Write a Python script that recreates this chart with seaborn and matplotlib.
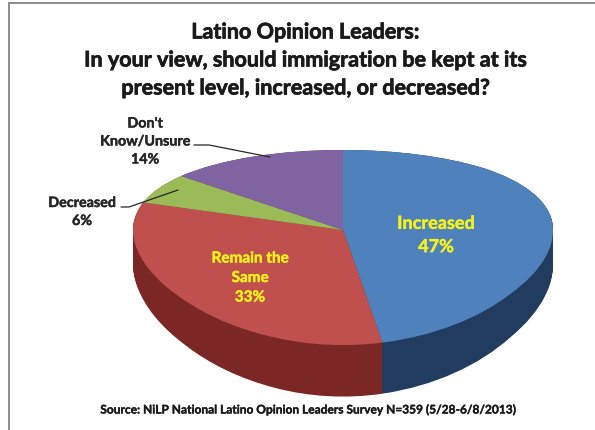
import numpy as np
import matplotlib
matplotlib.use("Agg")
import matplotlib.pyplot as plt
import matplotlib.patheffects as pe
import seaborn as sns

# Survey answers, clockwise from 12 o'clock
categories = ["Increased", "Remain the Same", "Decreased", "Don't Know/Unsure"]
shares = [47, 33, 6, 14]
top_colors = ["#4F81BD", "#C0504D", "#9BBB59", "#8064A2"]
side_colors = ["#223C60", "#7A2725", "#5E7530", "#4B3A63"]

title_lines = [
    "Latino Opinion Leaders:",
    "In your view, should immigration be kept at its",
    "present level, increased, or decreased?",
]
source_note = "Source: NiLP National Latino Opinion Leaders Survey N=359 (5/28-6/8/2013)"

sns.set_theme(style="white")
plt.rcParams["font.family"] = ["Lato", "DejaVu Sans"]

W, H = 595, 430
fig = plt.figure(figsize=(W / 100, H / 100), dpi=100)
fig.patch.set_facecolor("white")

# ---- pie axes: tilted disc via a perspective-like y scale ----
ax = fig.add_axes([0, 0, 1, 1])
CX, CY, RX = 343, 230, 210          # pixel centre and horizontal radius
A, E = 94.4, 0.1795                 # vertical scale and foreshortening


def fwd(y):
    y = np.asarray(y, dtype=float)
    with np.errstate(divide="ignore", invalid="ignore"):
        return y / (1 + E * y)


def inv(f):
    f = np.asarray(f, dtype=float)
    with np.errstate(divide="ignore", invalid="ignore"):
        return f / (1 - E * f)


depth = 0.34
layers = np.linspace(depth, 0.0, 45)
for d in layers:
    ax.pie(shares, colors=side_colors, startangle=90, counterclock=False,
           center=(0, -d), radius=1.0, frame=True,
           wedgeprops=dict(linewidth=0, antialiased=True))
ax.pie(shares, colors=top_colors, startangle=90, counterclock=False,
       center=(0, 0), radius=1.0, frame=True,
       wedgeprops=dict(linewidth=0, antialiased=True))

ax.set_aspect("auto")
ax.set_yscale("function", functions=(fwd, inv))
ax.set_xlim(-CX / RX, (W - CX) / RX)
ax.set_ylim(inv(-(H - CY) / A), inv(CY / A))
ax.set_xticks([])
ax.set_yticks([])
ax.set_axis_off()

# ---- overlay in pixel coordinates for text, leaders and frame ----
ov = fig.add_axes([0, 0, 1, 1])
ov.set_xlim(0, W)
ov.set_ylim(H, 0)
ov.set_axis_off()
ov.patch.set_alpha(0)

frame_kw = dict(color="#8C8C8C", lw=1.4, solid_capstyle="butt")
ov.plot([8, W], [2.5, 2.5], **frame_kw)
ov.plot([8.5, 8.5], [2, H], **frame_kw)


def heavy(color, w=0.45):
    return [pe.withStroke(linewidth=w, foreground=color)]


for i, line in enumerate(title_lines):
    ov.text(305, 32 + i * 28, line, ha="center", va="center",
            fontsize=15.5, fontweight="bold", color="#1a1a1a",
            path_effects=heavy("#1a1a1a", 0.5))

lab_kw = dict(ha="center", va="center", fontsize=10.3, fontweight="bold",
              color="#262626", linespacing=1.6,
              path_effects=heavy("#262626", 0.3))
ov.text(145, 141.5, "Don't\nKnow/Unsure\n{}%".format(shares[3]), **lab_kw)
ov.text(82, 212, "Decreased\n{}%".format(shares[2]), **lab_kw)

lead_kw = dict(color="#262626", lw=0.9)
ov.plot([194, 209, 270], [145, 145, 157], **lead_kw)
ov.plot([121, 129, 178], [207, 207, 190], **lead_kw)

yellow = "#F4F21C"
ov.text(436, 235, "Increased\n{}%".format(shares[0]), ha="center", va="center",
        fontsize=13.0, fontweight="bold", color=yellow, linespacing=1.45,
        path_effects=heavy(yellow, 0.3))
ov.text(250, 278, "Remain the\nSame\n{}%".format(shares[1]), ha="center",
        va="center", fontsize=11.0, fontweight="bold", color=yellow,
        linespacing=1.5, path_effects=heavy(yellow, 0.3))

ov.text(307, 410, source_note, ha="center", va="center", fontsize=8.6,
        fontweight="bold", color="#1a1a1a", path_effects=heavy("#1a1a1a", 0.25))

fig.savefig("out.png", dpi=100, facecolor="white")
